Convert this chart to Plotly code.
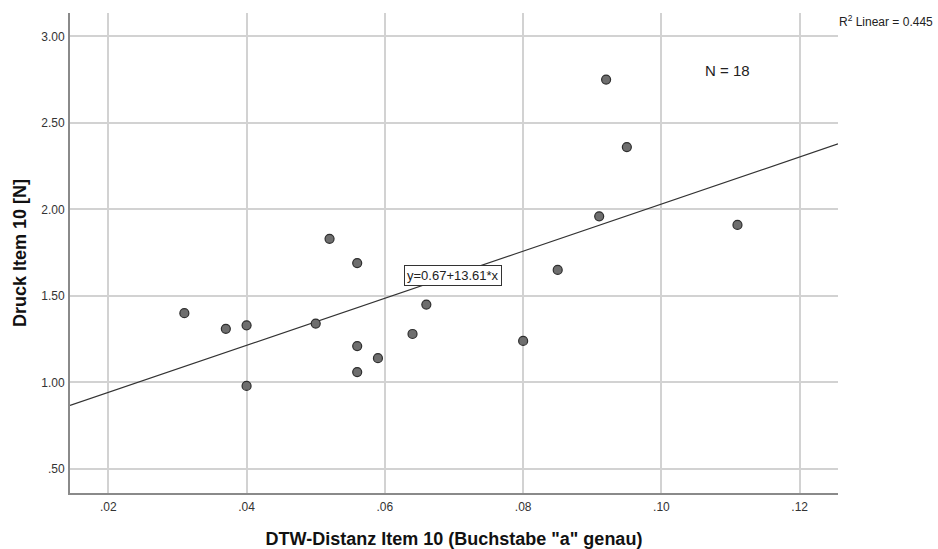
import plotly.graph_objects as go

# Data
dtw_distance = [0.031, 0.037, 0.040, 0.040, 0.050, 0.052, 0.056, 0.056, 0.056,
                0.059, 0.064, 0.066, 0.080, 0.085, 0.091, 0.092, 0.095, 0.111]
druck = [1.40, 1.31, 1.33, 0.98, 1.34, 1.83, 1.69, 1.21, 1.06,
         1.14, 1.28, 1.45, 1.24, 1.65, 1.96, 2.75, 2.36, 1.91]

fit_intercept = 0.67
fit_slope = 13.61
r_squared = 0.445

x_tick_vals = [0.02, 0.04, 0.06, 0.08, 0.10, 0.12]
x_tick_labels = [".02", ".04", ".06", ".08", ".10", ".12"]
y_tick_vals = [0.5, 1.0, 1.5, 2.0, 2.5, 3.0]
y_tick_labels = [".50", "1.00", "1.50", "2.00", "2.50", "3.00"]

x_range = [0.01446, 0.12554]
y_range = [0.361, 3.135]

FONT = "Arial, Liberation Sans, sans-serif"

fit_x = x_range
fit_y = [fit_intercept + fit_slope * v for v in fit_x]

fig = go.Figure()
fig.add_trace(go.Scatter(
    x=fit_x, y=fit_y, mode="lines",
    line=dict(color="#333333", width=1.2),
    hoverinfo="skip", showlegend=False))
fig.add_trace(go.Scatter(
    x=dtw_distance, y=druck, mode="markers",
    marker=dict(size=9, color="#6e6e6e", line=dict(color="#2e2e2e", width=1.2)),
    showlegend=False))

# Equation label on the line
fig.add_annotation(
    x=0.0698, y=1.617, xref="x", yref="y",
    text=f"y={fit_intercept:.2f}+{fit_slope:.2f}*x",
    showarrow=False, font=dict(family=FONT, size=13, color="#222222"),
    bgcolor="white", bordercolor="#333333", borderwidth=1, borderpad=2)

fig.add_annotation(
    x=0.1096, y=2.80, xref="x", yref="y",
    text=f"N = {len(druck)}", showarrow=False,
    font=dict(family=FONT, size=15, color="#222222"))

fig.add_annotation(
    x=1.0, y=1.0, xref="paper", yref="paper",
    xanchor="left", yanchor="top", xshift=-1, yshift=2,
    text=f"R<sup>2</sup> Linear = {r_squared:.3f}", showarrow=False,
    font=dict(family=FONT, size=12, color="#222222"))

fig.update_xaxes(
    range=x_range, tickvals=x_tick_vals, ticktext=x_tick_labels,
    showgrid=True, gridcolor="#d2d2d2", gridwidth=1.5,
    showline=True, linecolor="#8a8a8a", linewidth=2,
    zeroline=False, ticks="", ticklabelstandoff=2, automargin=False,
    tickfont=dict(family=FONT, size=12, color="#333333"),
    title=dict(text="DTW-Distanz Item 10 (Buchstabe \"a\" genau)",
               font=dict(family=FONT, size=18, color="#111111", weight="bold"),
               standoff=22))
fig.update_yaxes(
    range=y_range, tickvals=y_tick_vals, ticktext=y_tick_labels,
    showgrid=True, gridcolor="#d2d2d2", gridwidth=1.5,
    showline=True, linecolor="#8a8a8a", linewidth=2,
    zeroline=False, ticks="", ticklabelstandoff=1, automargin=False,
    tickfont=dict(family=FONT, size=12, color="#333333"),
    title=dict(text="Druck Item 10 [N]",
               font=dict(family=FONT, size=18, color="#111111", weight="bold"),
               standoff=10))

fig.update_layout(
    width=938, height=549,
    margin=dict(l=70, r=100, t=13, b=56),
    paper_bgcolor="white", plot_bgcolor="white",
    font=dict(family=FONT),
)

fig.write_html("out.html")
